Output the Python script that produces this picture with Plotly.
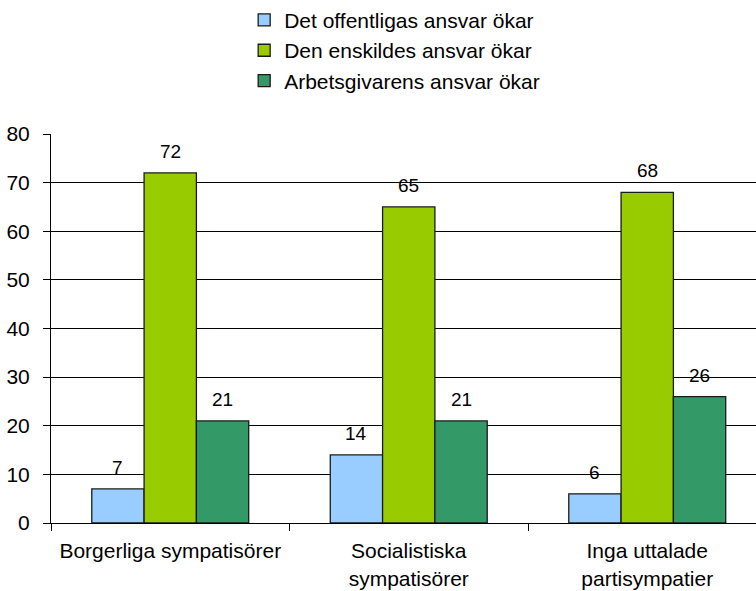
import plotly.graph_objects as go

categories = ["Borgerliga sympatisörer", "Socialistiska<br>sympatisörer", "Inga uttalade<br>partisympatier"]
series_names = ["Det offentligas ansvar ökar", "Den enskildes ansvar ökar", "Arbetsgivarens ansvar ökar"]
offentliga = [7, 14, 6]
enskilda = [72, 65, 68]
arbetsgivare = [21, 21, 26]
y_ticks = [0, 10, 20, 30, 40, 50, 60, 70, 80]

series_values = [offentliga, enskilda, arbetsgivare]
colors = ["#99CCFF", "#99CC00", "#339966"]

FONT = "Liberation Sans, Arial, sans-serif"

fig = go.Figure()
for name, vals, col in zip(series_names, series_values, colors):
    fig.add_trace(go.Bar(
        x=categories, y=vals, name=name,
        marker=dict(color=col, line=dict(color="#1a1a1a", width=1.3)),
    ))

bar_px = 52.3
for i, vals in enumerate(series_values):
    for c, v in zip(categories, vals):
        fig.add_annotation(x=c, y=v, text=str(v), showarrow=False,
                           xshift=(i - 1) * bar_px, yshift=9, yanchor="bottom",
                           font=dict(family=FONT, size=19, color="#000"))

fig.update_layout(
    width=756, height=591,
    margin=dict(l=51, r=0, t=134, b=68, pad=0, autoexpand=False),
    paper_bgcolor="white", plot_bgcolor="white",
    barmode="group", bargap=0.342, bargroupgap=0,
    font=dict(family=FONT, size=21, color="#000"),
    showlegend=True,
    legend=dict(x=0.274, y=1.345, xanchor="left", yanchor="top",
                font=dict(family=FONT, size=21, color="#000"),
                bgcolor="rgba(0,0,0,0)"),
    xaxis=dict(range=[-0.5, 2.456], showline=True, linecolor="#000", linewidth=1,
               ticks="outside", tickson="boundaries", ticklen=7, tickcolor="#000",
               showgrid=False, tickfont=dict(size=21), automargin=False,
               ticklabelstandoff=9),
    yaxis=dict(range=[0, 80], tickvals=y_ticks, showline=True, linecolor="#000", linewidth=1,
               ticks="outside", ticklen=7, tickcolor="#000",
               showgrid=True, gridcolor="#000", gridwidth=1, zeroline=False,
               tickfont=dict(size=21), automargin=False, ticklabelstandoff=9),
)

fig.write_html("out.html", config={"displayModeBar": False},
               post_script="document.body.style.margin='0';document.body.style.overflow='hidden';")
